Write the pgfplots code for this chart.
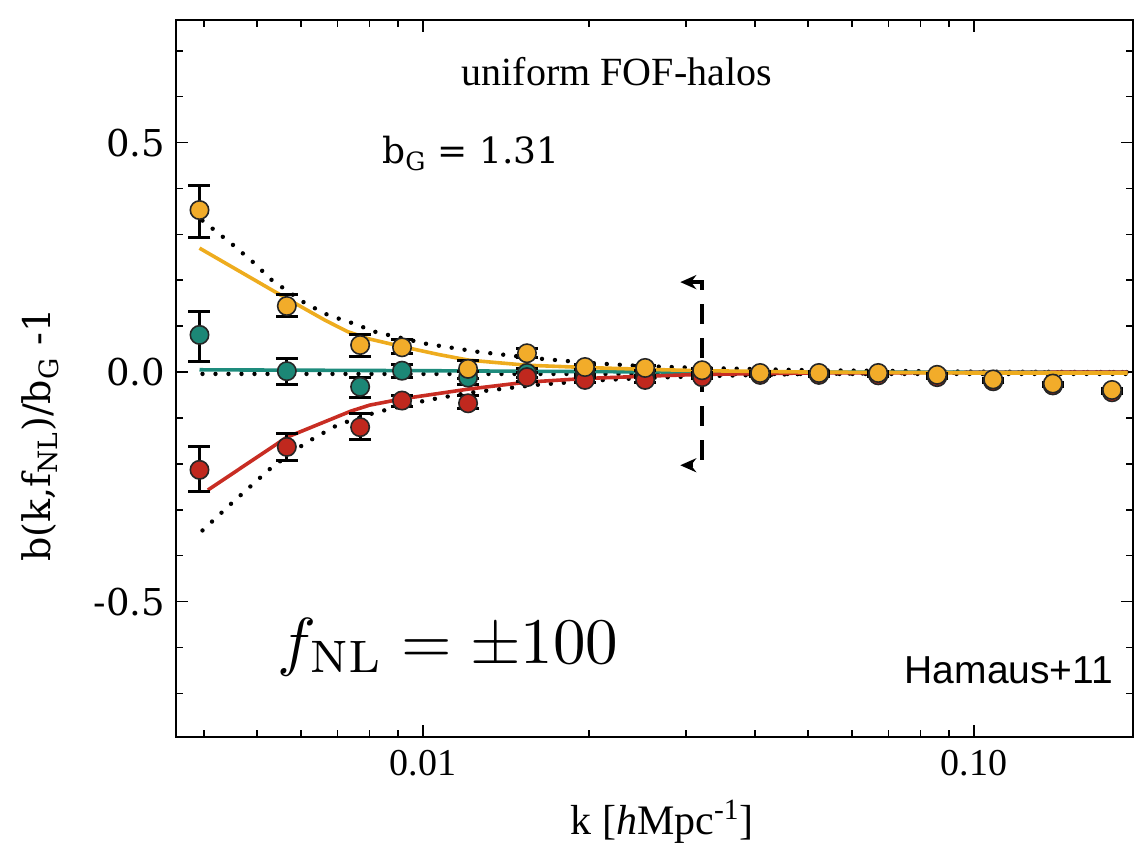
\documentclass[border=0pt]{standalone}
\usepackage[no-math]{fontspec}
\setmainfont{Liberation Serif}
\newfontfamily\dvs{DejaVu Serif}
\newfontfamily\hfont{Liberation Sans}
\usepackage{pgfplots}
\pgfplotsset{compat=1.18}
\usetikzlibrary{arrows.meta}
\definecolor{cor}{RGB}{242,172,42}
\definecolor{cte}{RGB}{28,135,118}
\definecolor{cre}{RGB}{192,40,30}
\definecolor{lor}{RGB}{238,172,30}
\definecolor{lte}{RGB}{30,140,125}
\definecolor{lre}{RGB}{200,45,35}

\pgfplotstableread{
k v ep em
0.00393 0.353 0.054 0.059
0.00566 0.144 0.024 0.024
0.00769 0.059 0.022 0.026
0.00916 0.054 0.016 0.014
0.01207 0.007 0.018 0.020
0.01544 0.041 0.010 0.010
0.01968 0.011 0.006 0.006
0.0253 0.009 0.005 0.005
0.0321 0.004 0.004 0.004
0.0409 -0.002 0.003 0.003
0.0523 -0.002 0.003 0.003
0.0670 -0.002 0.003 0.003
0.0857 -0.006 0.003 0.003
0.1083 -0.016 0.003 0.003
0.139 -0.025 0.003 0.003
0.178 -0.039 0.003 0.003
}\orange

\pgfplotstableread{
k v ep em
0.00393 0.081 0.050 0.059
0.00566 0.002 0.028 0.028
0.00769 -0.032 0.020 0.024
0.00916 0.003 0.014 0.014
0.01207 -0.012 0.014 0.014
0.01544 -0.002 0.010 0.010
0.01968 0.000 0.006 0.006
0.0253 -0.002 0.005 0.005
0.0321 -0.004 0.004 0.004
0.0409 -0.005 0.003 0.003
0.0523 -0.005 0.003 0.003
0.0670 -0.006 0.003 0.003
0.0857 -0.009 0.003 0.003
0.1083 -0.019 0.003 0.003
0.139 -0.028 0.003 0.003
0.178 -0.042 0.003 0.003
}\teal

\pgfplotstableread{
k v ep em
0.00393 -0.213 0.050 0.048
0.00566 -0.163 0.030 0.029
0.00769 -0.120 0.030 0.026
0.00916 -0.062 0.010 0.014
0.01207 -0.068 0.018 0.012
0.01544 -0.011 0.010 0.010
0.01968 -0.017 0.006 0.006
0.0253 -0.017 0.005 0.005
0.0321 -0.011 0.004 0.004
0.0409 -0.006 0.003 0.003
0.0523 -0.006 0.003 0.003
0.0670 -0.007 0.003 0.003
0.0857 -0.011 0.003 0.003
0.1083 -0.020 0.003 0.003
0.139 -0.029 0.003 0.003
0.178 -0.044 0.003 0.003
}\red

\begin{document}
\begin{tikzpicture}
\begin{axis}[
  at={(0,0)}, anchor=south west, scale only axis,
  width=478.5pt, height=358.5pt,
  xmode=log, xmin=0.003562, xmax=0.1943,
  ymin=-0.795, ymax=0.767,
  xtick={0.01,0.1}, xticklabels={0.01,0.10},
  minor xtick={0.004,0.005,0.006,0.007,0.008,0.009,0.02,0.03,0.04,0.05,0.06,0.07,0.08,0.09},
  ytick={-0.5,0,0.5}, yticklabels={-0.5,0.0,0.5},
  minor ytick={-0.7,-0.6,-0.4,-0.3,-0.2,-0.1,0.1,0.2,0.3,0.4,0.6,0.7},
  tick align=inside, tick pos=both,
  major tick length=6pt, minor tick length=3.5pt,
  every tick/.style={black, line width=0.8pt},
  axis line style={black, line width=1pt},
  xticklabel style={font=\fontsize{19}{19}\selectfont, yshift=-3pt},
  yticklabel style={font=\dvs\fontsize{18.5}{18.5}\selectfont, xshift=-2pt},
  xlabel={k [\textit{h}Mpc\textsuperscript{-1}]},
  xlabel style={font=\fontsize{21}{21}\selectfont, at={(axis description cs:0.508,-0.1185)}, anchor=center},
  ylabel={b(k,f\textsubscript{NL})/b\textsubscript{G} -1},
  ylabel style={font=\dvs\fontsize{19}{19}\selectfont, at={(axis description cs:-0.142,0.421)}, anchor=center, rotate=0},
  clip=true,
]
% dotted theory curves
\addplot[black, line width=2.2pt, dash pattern=on 0pt off 6.5pt, line cap=round] coordinates {
(0.00398,0.33) (0.00452,0.277) (0.00491,0.24) (0.00532,0.20) (0.00611,0.15) (0.00673,0.124) (0.00743,0.107) (0.00822,0.087) (0.0101,0.062) (0.0126,0.044) (0.016,0.030) (0.020,0.020) (0.025,0.013) (0.032,0.009) (0.05,0.004) (0.1,0.001) (0.19,0.0)};
\addplot[black, line width=2.2pt, dash pattern=on 0pt off 6.5pt, line cap=round] coordinates {
(0.00398,-0.345) (0.00452,-0.283) (0.00532,-0.207) (0.00611,-0.155) (0.0070,-0.115) (0.0082,-0.088) (0.0101,-0.062) (0.0121,-0.045) (0.016,-0.028) (0.020,-0.019) (0.025,-0.013) (0.032,-0.009) (0.05,-0.004) (0.1,-0.001) (0.19,0.0)};
\addplot[black, line width=2.2pt, dash pattern=on 0pt off 6.5pt, line cap=round] coordinates {
(0.00398,-0.004) (0.03,-0.004) (0.19,-0.004)};
% model lines
\addplot[lte, line width=1.8pt] coordinates {(0.00393,0.005) (0.01,0.003) (0.03,0.0) (0.19,0.0)};
\addplot[lre, line width=1.8pt] coordinates {
(0.00407,-0.257) (0.00566,-0.142) (0.0074,-0.085) (0.0080,-0.072) (0.0092,-0.058) (0.0121,-0.037) (0.0154,-0.022) (0.0197,-0.014) (0.0253,-0.009) (0.0321,-0.005) (0.05,-0.002) (0.19,0.0)};
\addplot[lor, line width=1.8pt] coordinates {
(0.00393,0.27) (0.00566,0.16) (0.00664,0.113) (0.0073,0.088) (0.0080,0.072) (0.0092,0.055) (0.0107,0.038) (0.0121,0.026) (0.0154,0.015) (0.0197,0.010) (0.0253,0.006) (0.0321,0.003) (0.05,0.0) (0.1,-0.002) (0.19,-0.002)};
% data points
\addplot[only marks, mark=*, mark size=4.6pt, mark options={fill=cte, draw=black!85, line width=0.8pt},
  error bars/.cd, y dir=both, y explicit,
  error bar style={black, line width=1.5pt},
  error mark options={rotate=90, mark size=5.5pt, black, line width=1.5pt}]
  table[x=k, y=v, y error plus=ep, y error minus=em] {\teal};
\addplot[only marks, mark=*, mark size=4.6pt, mark options={fill=cre, draw=black!85, line width=0.8pt},
  error bars/.cd, y dir=both, y explicit,
  error bar style={black, line width=1.5pt},
  error mark options={rotate=90, mark size=5.5pt, black, line width=1.5pt}]
  table[x=k, y=v, y error plus=ep, y error minus=em] {\red};
\addplot[only marks, mark=*, mark size=4.6pt, mark options={fill=cor, draw=black!85, line width=0.8pt},
  error bars/.cd, y dir=both, y explicit,
  error bar style={black, line width=1.5pt},
  error mark options={rotate=90, mark size=5.5pt, black, line width=1.5pt}]
  table[x=k, y=v, y error plus=ep, y error minus=em] {\orange};
% scale marker
\draw[black, line width=2pt, dash pattern=on 10pt off 7pt, {Stealth[length=8pt,width=7pt]}-{Stealth[length=8pt,width=7pt]}]
  (axis cs:0.0293,0.196) -- (axis cs:0.0321,0.196) -- (axis cs:0.0321,-0.203) -- (axis cs:0.0293,-0.203);
% annotations
\node[font=\fontsize{20}{20}\selectfont, anchor=center] at (axis cs:0.02248,0.654) {uniform FOF-halos};
\node[font=\dvs\fontsize{18}{18}\selectfont, anchor=base] at (axis cs:0.01222,0.455) {b\textsubscript{G} = 1.31};
\node[anchor=base, inner sep=0pt, scale=3.25] at (axis cs:0.0111,-0.634) {$f_{\mathrm{NL}} = \pm 100$};
\node[font=\hfont\fontsize{19.5}{19.5}\selectfont, anchor=center] at (axis cs:0.1157,-0.649) {Hamaus+11};
\end{axis}
\pgfresetboundingbox
\path[use as bounding box] (-88pt,-54.5pt) rectangle (482pt,368.5pt);
\end{tikzpicture}
\end{document}
